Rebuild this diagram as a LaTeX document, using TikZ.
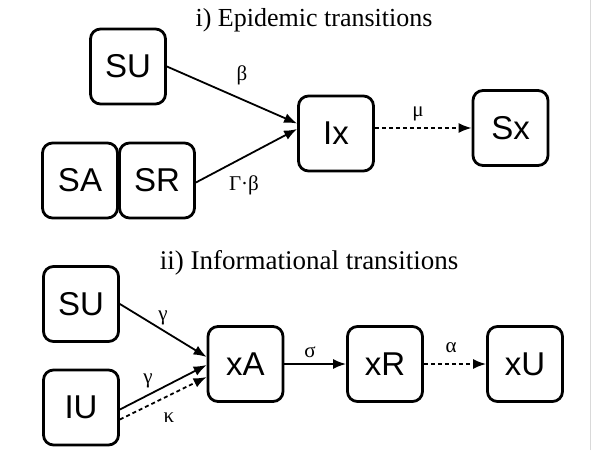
\documentclass[tikz,border=0pt]{standalone}
\usepackage{fontspec}
\setmainfont{Liberation Serif}
\setsansfont{Liberation Sans}
\usetikzlibrary{positioning,calc,arrows.meta}
\tikzstyle{state}=[rectangle,rounded corners=10pt,line width=2.8pt,draw=black,minimum width=75pt,minimum height=75pt,inner sep=0pt,font=\sffamily\fontsize{33}{33}\selectfont]
\tikzstyle{rate}=[inner sep=0pt,font=\fontsize{21}{21}\selectfont]
\tikzstyle{title}=[inner sep=0pt,anchor=base,font=\fontsize{26}{26}\selectfont]
\tikzstyle{flow}=[-{Latex[length=13pt,width=10pt]},line width=1.8pt]
\tikzstyle{slow}=[flow,dash pattern=on 4pt off 3pt]

\begin{document}
\begin{tikzpicture}[x=1pt,y=1pt]
  \fill [white] (0,0) rectangle (593,450);
  \useasboundingbox (0,0) rectangle (593,450);
  \draw [black!15, line width=1pt] (590.5,0) -- (590.5,450);

  % epidemic layer
  \node [title] at (314, 423) (tepi) {i) Epidemic transitions};
  \node [state] at (128, 383.5) (SUe) {SU};
  \node [state] at (80, 269.5) (SA) {SA};
  \node [state] at (157, 269.5) (SR) {SR};
  \node [state] at (336, 316.5) (Ix) {Ix};
  \node [state] at (510.5, 322) (Sx) {Sx};

  \draw [flow] (SUe.east) -- ($(Ix.west)+(0,10)$);
  \draw [flow] ($(SR.east)+(0,-2)$) -- ($(Ix.west)+(0,4.5)$);
  \draw [slow] (Ix.east |- Sx.west) -- (Sx.west);

  \node [rate] at (242, 375) (beta) {β};
  \node [rate] at (244, 265) (gbeta) {Γ·β};
  \node [rate] at (418, 336) (mu) {μ};

  % information layer
  \node [title, font=\fontsize{27}{27}\selectfont] at (309, 181) (tinf) {ii) Informational transitions};
  \node [state] at (81, 146) (SUi) {SU};
  \node [state] at (81, 42.5) (IU) {IU};
  \node [state] at (245.5, 86) (xA) {xA};
  \node [state] at (385, 86) (xR) {xR};
  \node [state] at (525, 86) (xU) {xU};

  \draw [flow] (SUi.east) -- ($(xA.west)+(0,7)$);
  \draw [flow] ($(IU.east)+(0,-2)$) -- ($(xA.west)+(0,-1)$);
  \draw [slow] ($(IU.east)+(0,-12)$) -- ($(xA.west)+(0,-13)$);
  \draw [flow] (xA) -- (xR);
  \draw [slow] (xR) -- (xU);

  \node [rate] at (163, 132) (gam1) {γ};
  \node [rate] at (148, 69) (gam2) {γ};
  \node [rate] at (169, 32) (kap) {κ};
  \node [rate] at (310, 98) (sig) {σ};
  \node [rate] at (451, 102) (alp) {α};
\end{tikzpicture}
\end{document}
